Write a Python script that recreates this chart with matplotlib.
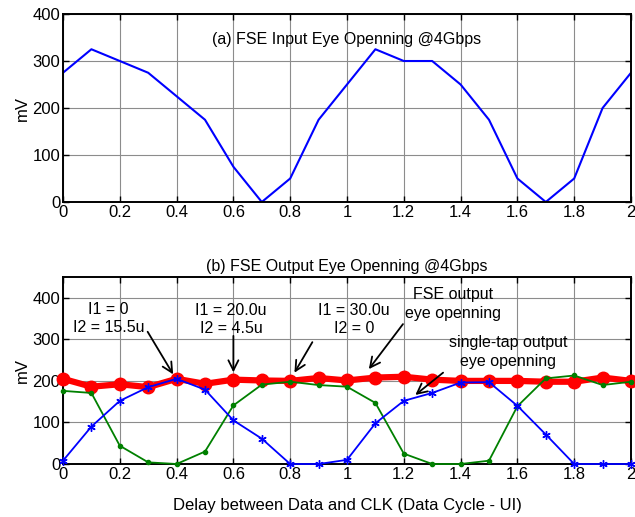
import numpy as np
import matplotlib
matplotlib.use("Agg")
import matplotlib.pyplot as plt

plt.rcParams['font.family'] = ['Liberation Sans', 'DejaVu Sans']

# delay axis (UI)
delay = [round(0.1 * i, 1) for i in range(21)]

# (a) input eye opening, mV
eye_in = [275, 325, 300, 275, 225, 175, 75, 0, 50, 175, 250,
          325, 300, 300, 250, 175, 50, 0, 50, 200, 275]

# (b) output eye openings, mV
fse_out = [205, 186, 192, 185, 205, 193, 203, 201, 200, 207, 201,
           208, 210, 203, 200, 200, 200, 198, 198, 208, 200]
tap_green = [176, 171, 44, 4, 0, 30, 141, 191, 198, 190, 186,
             147, 25, 0, 0, 8, 139, 206, 213, 190, 198]
tap_blue = [8, 90, 152, 185, 205, 179, 105, 61, 0, 0, 10,
            98, 152, 171, 196, 197, 140, 71, 0, 0, 0]

xticks = [0, 0.2, 0.4, 0.6, 0.8, 1, 1.2, 1.4, 1.6, 1.8, 2]
xticklabels = ['0', '0.2', '0.4', '0.6', '0.8', '1', '1.2', '1.4', '1.6', '1.8', '2']

FS = 12

fig = plt.figure(figsize=(6.35, 5.17), dpi=100)
ax1 = fig.add_axes([0.0992, 0.6093, 0.8945, 0.3636])
ax2 = fig.add_axes([0.0992, 0.1025, 0.8945, 0.3617])


def style(ax, ymax):
    ax.set_xlim(0, 2)
    ax.set_ylim(0, ymax)
    ax.set_xticks(xticks)
    ax.set_xticklabels(xticklabels)
    ax.set_yticks([0, 100, 200, 300, 400])
    ax.grid(True, color='#8c8c8c', linewidth=0.8)
    ax.set_axisbelow(True)
    ax.tick_params(direction='in', top=True, right=True, labelsize=FS,
                   length=4, width=1, pad=2)
    for s in ax.spines.values():
        s.set_linewidth(1.4)
    ax.set_ylabel('mV', fontsize=FS, labelpad=2)


# --- (a) ---
ax1.plot(delay, eye_in, color='#0000ff', linewidth=1.5)
style(ax1, 400)
ax1.text(0.5, 0.862, '(a) FSE Input Eye Openning @4Gbps', transform=ax1.transAxes,
         ha='center', va='center', fontsize=FS - 0.5)

# --- (b) ---
ax2.plot(delay, fse_out, color='#ff0000', linewidth=4.5, marker='o', markersize=9,
         clip_on=False, zorder=3)
ax2.plot(delay, tap_green, color='#008000', linewidth=1.3, marker='.', markersize=6,
         clip_on=False, zorder=4)
ax2.plot(delay, tap_blue, color='#0000ff', linewidth=1.3, marker=(6, 2, 0), markersize=6,
         clip_on=False, zorder=5)
style(ax2, 450)
ax2.set_title('(b) FSE Output Eye Openning @4Gbps', fontsize=FS - 0.5, pad=4)
ax2.set_xlabel('Delay between Data and CLK (Data Cycle - UI)', fontsize=FS, labelpad=12)

arrow = dict(arrowstyle='->', color='black', lw=1.3, mutation_scale=18)
notes = [
    ('I1 = 0\nI2 = 15.5u', (0.16, 350), (0.293, 324), (0.393, 210)),
    ('I1 = 20.0u\nI2 = 4.5u', (0.592, 348), (0.6, 315), (0.6, 214)),
    ('I1 = 30.0u\nI2 = 0', (1.025, 348), (0.883, 299), (0.81, 214)),
    ('FSE output\neye openning', (1.375, 385), (1.203, 342), (1.071, 223)),
    ('single-tap output\neye openning', (1.568, 270), (1.346, 224), (1.233, 162)),
]
for label, pos, tail, head in notes:
    ax2.text(pos[0], pos[1], label, ha='center', va='center', fontsize=FS - 0.5,
             linespacing=1.3, zorder=6)
    ax2.annotate('', xy=head, xytext=tail, arrowprops=arrow, zorder=6)

fig.savefig('out.png', dpi=100)
